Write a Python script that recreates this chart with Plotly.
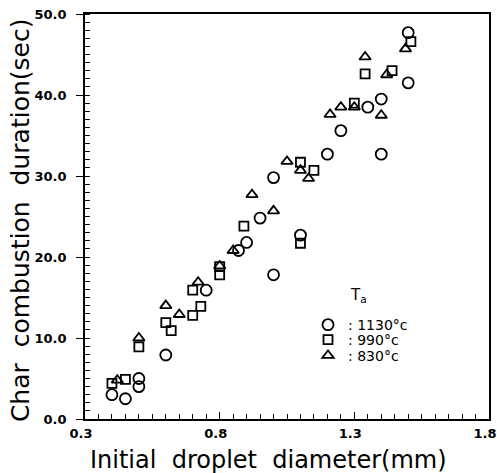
import plotly.graph_objects as go

# 1130 °C (circles)
d1130 = [0.40, 0.45, 0.50, 0.50, 0.60, 0.75, 0.87, 0.90, 0.95, 1.00, 1.00, 1.10, 1.20, 1.25, 1.35, 1.40, 1.40, 1.50, 1.50]
t1130 = [3.0, 2.5, 5.0, 4.0, 7.9, 15.9, 20.8, 21.8, 24.8, 29.8, 17.8, 22.7, 32.7, 35.6, 38.5, 39.5, 32.7, 47.7, 41.5]

# 990 °C (squares)
d990 = [0.40, 0.45, 0.50, 0.60, 0.62, 0.70, 0.70, 0.73, 0.80, 0.80, 0.89, 1.10, 1.10, 1.15, 1.30, 1.34, 1.44, 1.51]
t990 = [4.4, 4.9, 8.9, 11.9, 10.9, 15.9, 12.8, 13.9, 17.8, 18.8, 23.8, 21.7, 31.7, 30.7, 39.0, 42.6, 43.0, 46.6]

# 830 °C (triangles)
d830 = [0.42, 0.50, 0.60, 0.65, 0.72, 0.80, 0.85, 0.92, 1.00, 1.05, 1.10, 1.13, 1.21, 1.25, 1.30, 1.34, 1.40, 1.42, 1.49]
t830 = [4.8, 10.0, 14.0, 12.9, 16.9, 18.9, 20.8, 27.7, 25.7, 31.8, 30.7, 29.7, 37.6, 38.5, 38.5, 44.7, 37.5, 42.5, 45.7]

series_names = [": 1130°c", ": 990°c", ": 830°c"]
x_ticks = [0.3, 0.8, 1.3, 1.8]
y_ticks = [0, 10, 20, 30, 40, 50]

FONT = "DejaVu Sans"
fig = go.Figure()
for xs, ys, sym, size, name, lg in [
    (d1130, t1130, "circle-open", 11, series_names[0], "legend"),
    (d990, t990, "square-open", 9, series_names[1], "legend2"),
    (d830, t830, "triangle-up-open", 10, series_names[2], "legend3"),
]:
    fig.add_trace(go.Scatter(
        x=xs, y=ys, mode="markers", name=name, legend=lg,
        marker=dict(symbol=sym, size=size, color="black", line=dict(width=1.8, color="black")),
    ))

tickfont = dict(family=FONT, size=13, color="black", weight="bold")
axis_common = dict(
    showline=True, linecolor="black", linewidth=1.6, mirror=True,
    ticklen=7, tickwidth=1.4, tickcolor="black",
    showgrid=False, zeroline=False, automargin=False,
    tickfont=tickfont, ticklabeloverflow="allow",
)
fig.update_xaxes(
    range=[0.3, 1.8], tickvals=x_ticks, ticktext=[f"{v:.1f}" for v in x_ticks],
    ticks="inside",
    minor=dict(ticks="inside", dtick=0.05, tick0=0.3, ticklen=5, tickwidth=1.3, tickcolor="black"),
    ticklabelstandoff=2, ticklabelshift=-4,
    **axis_common,
)
fig.update_yaxes(
    range=[0, 50], tickvals=y_ticks, ticktext=[f"{v:.1f}" for v in y_ticks],
    ticks="outside",
    minor=dict(ticks="inside", dtick=1, ticklen=5, tickwidth=1.3, tickcolor="black"),
    ticklabelstandoff=7,
    **axis_common,
)

leg_common = dict(
    xanchor="left", yanchor="middle", bgcolor="rgba(0,0,0,0)", borderwidth=0,
    font=dict(family=FONT, size=14, color="black"), itemwidth=30,
)
fig.update_layout(
    width=497, height=473,
    margin=dict(l=85, r=8, t=14, b=54, autoexpand=False),
    plot_bgcolor="white", paper_bgcolor="white",
    showlegend=True,
    legend=dict(x=0.552, y=0.232, **leg_common),
    legend2=dict(x=0.552, y=0.195, **leg_common),
    legend3=dict(x=0.552, y=0.156, **leg_common),
    annotations=[
        dict(text="T<sub>a</sub>", xref="paper", yref="paper", x=0.703, y=0.277,
             showarrow=False, font=dict(family=FONT, size=15, color="black")),
        dict(text="Initial  droplet  diameter(mm)", xref="paper", yref="paper",
             x=0.453, y=-0.101, xanchor="center", yanchor="middle", showarrow=False,
             font=dict(family=FONT, size=24, color="black")),
        dict(text="Char  combustion  duration(sec)", xref="paper", yref="paper",
             x=-0.161, y=0.491, xanchor="center", yanchor="middle", textangle=-90, showarrow=False,
             font=dict(family=FONT, size=25, color="black")),
    ],
)
fig.write_html("out.html")
